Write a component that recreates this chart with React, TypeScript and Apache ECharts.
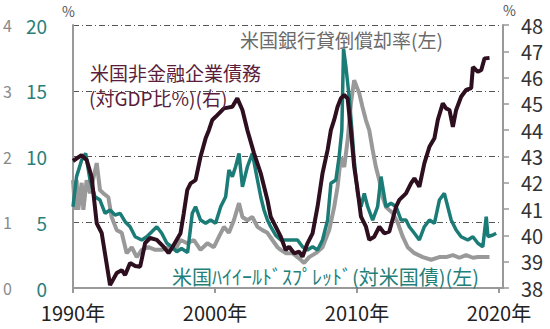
import React, { useEffect, useRef } from "react";
import * as echarts from "echarts";

// 米国非金融企業債務(対GDP比%)(右)
const debtYears = [1990.0, 1990.6, 1990.96, 1991.31, 1991.67, 1992.02, 1992.61, 1993.08, 1993.43, 1993.67, 1994.02, 1994.38, 1994.73, 1995.08, 1995.43, 1995.9, 1996.37, 1996.73, 1997.0, 1997.57, 1997.8, 1998.05, 1998.28, 1998.63, 1998.98, 1999.34, 1999.57, 1999.81, 2000.04, 2000.63, 2001.22, 2001.57, 2001.93, 2002.28, 2002.75, 2003.22, 2003.69, 2003.92, 2004.16, 2004.63, 2004.98, 2005.22, 2005.57, 2005.92, 2006.16, 2006.51, 2006.87, 2007.22, 2007.57, 2007.93, 2008.16, 2008.39, 2008.63, 2008.86, 2009.1, 2009.34, 2009.57, 2009.8, 2010.04, 2010.28, 2010.63, 2010.86, 2011.21, 2011.57, 2011.92, 2012.27, 2012.75, 2012.98, 2013.45, 2013.8, 2014.04, 2014.39, 2014.74, 2015.1, 2015.45, 2015.69, 2016.04, 2016.27, 2016.51, 2016.75, 2016.98, 2017.33, 2017.68, 2018.04, 2018.16, 2018.27, 2018.51, 2018.75, 2018.98, 2019.33];
const debtValues = [42.83, 43.05, 42.87, 42.23, 40.46, 40.09, 38.11, 38.57, 38.68, 38.49, 38.95, 38.84, 38.81, 39.71, 39.9, 39.83, 39.57, 39.33, 39.55, 40.08, 40.84, 41.73, 41.98, 42.1, 42.99, 43.69, 44.0, 44.39, 44.51, 44.83, 44.89, 45.21, 44.77, 44.0, 43.12, 42.36, 41.35, 40.71, 40.46, 39.95, 39.44, 39.57, 39.32, 39.38, 39.19, 39.7, 40.08, 41.09, 42.36, 43.25, 44.0, 44.39, 44.89, 45.21, 45.34, 45.2, 44.0, 42.61, 41.73, 40.71, 40.33, 39.83, 39.95, 40.33, 40.08, 40.14, 41.09, 41.35, 41.6, 41.98, 42.17, 41.85, 42.74, 43.37, 43.69, 44.39, 45.02, 44.83, 44.77, 44.13, 44.77, 45.27, 45.53, 45.6, 46.4, 46.35, 46.22, 46.29, 46.73, 46.75];

// 米国銀行貸倒償却率(左)
const chargeOffYears = [1990.0, 1990.14, 1990.25, 1990.37, 1990.61, 1990.73, 1990.96, 1991.2, 1991.67, 1991.9, 1992.14, 1992.49, 1992.72, 1993.08, 1993.43, 1993.78, 1994.14, 1994.49, 1994.84, 1995.31, 1995.79, 1996.25, 1996.73, 1997.2, 1997.57, 1998.05, 1998.51, 1998.98, 1999.46, 1999.92, 2000.28, 2000.63, 2000.98, 2001.33, 2001.69, 2001.93, 2002.28, 2002.63, 2002.99, 2003.34, 2003.69, 2004.04, 2004.4, 2004.63, 2004.98, 2005.46, 2005.81, 2006.04, 2006.27, 2006.63, 2007.1, 2007.57, 2008.04, 2008.39, 2008.63, 2008.86, 2009.1, 2009.34, 2009.57, 2009.8, 2010.16, 2010.39, 2010.63, 2010.86, 2011.1, 2011.33, 2011.57, 2011.81, 2012.04, 2012.51, 2012.87, 2013.22, 2013.57, 2014.04, 2014.63, 2015.22, 2015.8, 2016.27, 2016.75, 2017.21, 2017.68, 2018.16, 2018.51, 2018.98, 2019.33];
const chargeOffValues = [1.64, 1.19, 1.64, 1.19, 1.6, 1.19, 1.64, 1.44, 1.9, 1.49, 1.44, 1.38, 1.08, 0.88, 0.84, 0.53, 0.62, 0.47, 0.58, 0.62, 0.58, 0.58, 0.62, 0.58, 0.73, 0.68, 0.73, 0.58, 0.68, 0.62, 0.78, 0.93, 0.84, 1.03, 1.29, 1.08, 1.03, 1.08, 0.93, 0.88, 0.84, 0.73, 0.62, 0.58, 0.53, 0.53, 0.47, 0.43, 0.38, 0.47, 0.53, 0.62, 0.88, 1.23, 1.54, 1.99, 1.84, 2.25, 2.81, 3.16, 2.96, 2.75, 2.55, 2.4, 2.1, 1.84, 1.64, 1.38, 1.23, 1.14, 0.99, 0.78, 0.62, 0.53, 0.47, 0.43, 0.47, 0.47, 0.5, 0.46, 0.5, 0.46, 0.47, 0.47, 0.47];

// 米国ハイイールドスプレッド(対米国債)(左)
const spreadYears = [1990.0, 1990.25, 1990.61, 1990.89, 1991.2, 1991.55, 1991.9, 1992.26, 1992.61, 1992.96, 1993.32, 1993.67, 1994.02, 1994.38, 1994.84, 1995.19, 1995.55, 1995.9, 1996.25, 1996.61, 1996.96, 1997.31, 1997.64, 1998.07, 1998.4, 1998.63, 1998.98, 1999.34, 1999.69, 2000.04, 2000.4, 2000.75, 2000.98, 2001.22, 2001.45, 2001.69, 2001.93, 2002.28, 2002.63, 2002.99, 2003.22, 2003.45, 2003.69, 2003.92, 2004.28, 2004.63, 2005.1, 2005.46, 2005.81, 2006.16, 2006.51, 2006.87, 2007.22, 2007.57, 2007.93, 2008.16, 2008.51, 2008.74, 2008.93, 2009.05, 2009.22, 2009.45, 2009.64, 2009.8, 2010.04, 2010.28, 2010.51, 2010.75, 2011.1, 2011.45, 2011.69, 2012.04, 2012.39, 2012.75, 2013.1, 2013.45, 2013.68, 2014.04, 2014.39, 2014.74, 2015.1, 2015.45, 2015.8, 2016.15, 2016.39, 2016.63, 2016.98, 2017.33, 2017.8, 2018.16, 2018.51, 2018.86, 2019.1, 2019.22, 2019.57, 2019.8];
const spreadValues = [6.18, 8.47, 9.73, 10.24, 8.21, 6.94, 6.69, 5.68, 5.93, 5.55, 5.68, 5.04, 4.66, 3.9, 3.65, 3.9, 4.28, 4.66, 4.16, 3.4, 3.14, 2.76, 3.0, 2.7, 5.68, 6.18, 5.17, 4.92, 5.17, 4.92, 6.18, 6.94, 8.97, 8.47, 9.22, 10.24, 7.7, 9.22, 10.24, 8.21, 6.94, 5.93, 5.17, 4.66, 4.0, 3.65, 3.65, 3.65, 3.65, 3.14, 2.89, 3.14, 2.89, 3.65, 5.17, 7.96, 8.21, 9.98, 12.0, 18.2, 16.8, 14.5, 12.0, 9.73, 7.2, 6.18, 7.2, 6.18, 5.17, 6.18, 8.47, 6.18, 6.44, 6.18, 5.17, 5.17, 4.66, 4.16, 3.65, 4.66, 5.17, 4.92, 6.69, 7.2, 6.18, 5.17, 4.41, 3.9, 3.65, 3.9, 3.4, 3.14, 5.42, 3.9, 4.03, 4.16];

const xTickYears = [1990, 2000, 2010, 2020];

const zip = (xs: number[], ys: number[]) => xs.map((x, i) => [x, ys[i]]);

const FONT = '"Noto Sans CJK JP", "Noto Sans", sans-serif';

export default function App() {
  const ref = useRef<HTMLDivElement>(null);
  useEffect(() => {
    if (!ref.current) return;
    const chart = echarts.init(ref.current, null, { renderer: "svg" });
    const gridStyle = { color: "#555", width: 1, type: [6, 3, 1, 3] as any };
    chart.setOption({
      animation: false,
      backgroundColor: "#fff",
      textStyle: { fontFamily: FONT },
      grid: { left: 73, right: 47, top: 25, bottom: 41, containLabel: false },
      xAxis: {
        type: "value",
        min: 1990,
        max: 2020.28,
        interval: 10,
        axisLine: { show: true, lineStyle: { color: "#999", width: 2 } },
        axisTick: { show: true, length: 5, lineStyle: { color: "#999", width: 2 },
          customValues: xTickYears },
        axisLabel: {
          fontSize: 20, lineHeight: 18, color: "#222", margin: 15, fontFamily: FONT,
          customValues: xTickYears,
          formatter: (v: number) => (xTickYears.includes(Math.round(v * 100) / 100) ? `${v}年` : ""),
        },
        splitLine: { show: false },
      },
      yAxis: [
        {
          type: "value", min: 0, max: 4, interval: 1, position: "left",
          axisLine: { show: false }, axisTick: { show: false }, splitLine: { show: false },
          axisLabel: { fontSize: 16, lineHeight: 14, color: "#8a8a8a", margin: 61, fontFamily: FONT },
        },
        {
          type: "value", min: 0, max: 20, interval: 5, position: "left",
          axisLine: { show: true, lineStyle: { color: "#999", width: 2 } },
          axisTick: { show: false },
          splitLine: { show: true, lineStyle: gridStyle },
          axisLabel: { fontSize: 19, lineHeight: 16, color: "#2a7f7a", margin: 26, fontFamily: FONT },
        },
        {
          type: "value", min: 38, max: 48, interval: 1, position: "right",
          axisLine: { show: true, lineStyle: { color: "#999", width: 2 } },
          axisTick: { show: true, inside: false, length: 6, lineStyle: { color: "#999", width: 1.5 } },
          splitLine: { show: false },
          axisLabel: { fontSize: 20, lineHeight: 16, color: "#333", margin: 18, fontFamily: FONT },
        },
      ],
      series: [
        {
          type: "line", name: "米国銀行貸倒償却率(左)", yAxisIndex: 0,
          data: zip(chargeOffYears, chargeOffValues), showSymbol: false,
          lineStyle: { color: "#999", width: 4 }, itemStyle: { color: "#999" }, z: 2,
        },
        {
          type: "line", name: "米国ハイイールドスプレッド(対米国債)(左)", yAxisIndex: 1,
          data: zip(spreadYears, spreadValues), showSymbol: false,
          lineStyle: { color: "#1b7c77", width: 3.5 }, itemStyle: { color: "#1b7c77" }, z: 3,
        },
        {
          type: "line", name: "米国非金融企業債務(対GDP比%)(右)", yAxisIndex: 2,
          data: zip(debtYears, debtValues), showSymbol: false,
          lineStyle: { color: "#2e0f1f", width: 4 }, itemStyle: { color: "#2e0f1f" }, z: 4,
        },
      ],
      graphic: [
        { type: "text", left: 62, top: 4, style: { text: "%", fontSize: 14, fill: "#555", fontFamily: FONT } },
        { type: "text", left: 503, top: 3, style: { text: "%", fontSize: 14, fill: "#555", fontFamily: FONT } },
        { type: "text", left: 240, top: 30, z: 10, style: { text: "米国銀行貸倒償却率(左)", fontSize: 19, lineHeight: 18, fill: "#6a6a6a", fontFamily: FONT } },
        { type: "text", left: 90, top: 63, z: 10, style: { text: "米国非金融企業債務", fontSize: 19, lineHeight: 18, fill: "#5a1e3c", fontFamily: FONT } },
        { type: "text", left: 89, top: 88, z: 10, style: { text: "(対GDP比%)(右)", fontSize: 19, lineHeight: 18, fill: "#5a1e3c", fontFamily: FONT } },
        { type: "text", left: 172, top: 266, z: 10, style: { text: "米国ﾊｲｲｰﾙﾄﾞｽﾌﾟﾚｯﾄﾞ(対米国債)(左)", fontSize: 20, lineHeight: 18, fill: "#238079", fontFamily: FONT } },
      ],
    });
    return () => chart.dispose();
  }, []);
  return (
    <div
      ref={ref}
      style={{ position: "fixed", left: 0, top: 0, width: 550, height: 329, background: "#fff" }}
    />
  );
}
